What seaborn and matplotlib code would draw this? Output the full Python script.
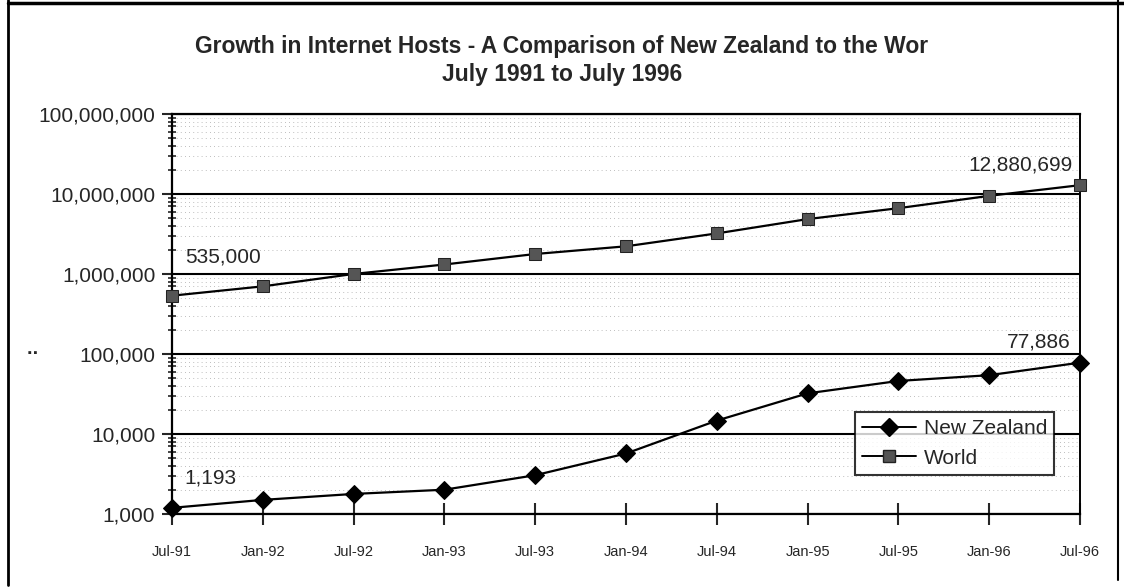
import matplotlib
matplotlib.use("Agg")
import matplotlib.pyplot as plt
import matplotlib.ticker as mticker
from matplotlib.lines import Line2D
import numpy as np
import pandas as pd
import seaborn as sns

# data
months = ["Jul-91", "Jan-92", "Jul-92", "Jan-93", "Jul-93", "Jan-94",
          "Jul-94", "Jan-95", "Jul-95", "Jan-96", "Jul-96"]
new_zealand = [1193, 1500, 1780, 2010, 3050, 5700, 14700, 32200, 46000, 54300, 77886]
world = [535000, 700000, 1000000, 1313000, 1776000, 2217000, 3212000,
         4852000, 6642000, 9472000, 12880699]
title_lines = ["Growth in Internet Hosts - A Comparison of New Zealand to the Wor",
               "July 1991 to July 1996"]

df = pd.DataFrame({"pos": np.arange(len(months)), "month": months,
                   "New Zealand": new_zealand, "World": world})

sns.set_style("white")
plt.rcParams["font.family"] = ["Liberation Sans", "DejaVu Sans"]

fig = plt.figure(figsize=(11.24, 5.88), dpi=100)
ax = fig.add_axes([0.1530, 0.1259, 0.8079, 0.6803])

sns.lineplot(data=df, x="pos", y="New Zealand", ax=ax, color="black", lw=1.6,
             marker="D", markersize=9, markerfacecolor="black",
             markeredgecolor="black", clip_on=False, zorder=5)
sns.lineplot(data=df, x="pos", y="World", ax=ax, color="black", lw=1.6,
             marker="s", markersize=9, markerfacecolor="#555555",
             markeredgecolor="#222222", clip_on=False, zorder=5)

ax.set_yscale("log")
ax.set_ylim(1e3, 1e8)
ax.set_xlim(0, len(months) - 1)
ax.set_xticks(df["pos"])
ax.set_xticklabels(months, fontsize=10.5)
ax.yaxis.set_major_locator(mticker.LogLocator(base=10, numticks=10))
ax.yaxis.set_minor_locator(mticker.LogLocator(base=10, subs=np.arange(2, 10), numticks=20))
ax.yaxis.set_major_formatter(mticker.FuncFormatter(lambda v, p: f"{v:,.0f}"))
ax.yaxis.set_minor_formatter(mticker.NullFormatter())
ax.tick_params(axis="y", which="major", labelsize=15, length=7, width=1.5,
               direction="out", left=True, pad=5)
ax.tick_params(axis="y", which="minor", length=6, width=1.2, direction="inout", left=True)
ax.tick_params(axis="x", which="major", length=16, width=1.5, direction="inout",
               bottom=True, pad=14)
ax.set_xlabel("")
ax.set_ylabel("")

ax.grid(axis="y", which="major", color="black", lw=1.5)
ax.grid(axis="y", which="minor", color="#a8a8a8", lw=0.6, linestyle=(0, (1, 4)))
ax.grid(axis="x", visible=False)

for side in ["left", "bottom", "top"]:
    ax.spines[side].set_color("black")
    ax.spines[side].set_linewidth(1.6)
ax.spines["right"].set_color("black")
ax.spines["right"].set_linewidth(1.4)
ax.spines["right"].set_linestyle((0, (2, 1)))

# data labels at the ends of the series
ax.annotate(f"{new_zealand[0]:,}", (0, new_zealand[0]), xytext=(12, 30),
            textcoords="offset pixels", ha="left", va="center", fontsize=15)
ax.annotate(f"{world[0]:,}", (0, world[0]), xytext=(13, 39),
            textcoords="offset pixels", ha="left", va="center", fontsize=15)
ax.annotate(f"{new_zealand[-1]:,}", (10, new_zealand[-1]), xytext=(-9, 21),
            textcoords="offset pixels", ha="right", va="center", fontsize=15)
ax.annotate(f"{world[-1]:,}", (10, world[-1]), xytext=(-7, 20),
            textcoords="offset pixels", ha="right", va="center", fontsize=15)

handles = [Line2D([], [], color="black", lw=1.4, marker="D", markersize=9,
                  markerfacecolor="black"),
           Line2D([], [], color="black", lw=1.4, marker="s", markersize=9,
                  markerfacecolor="#555555", markeredgecolor="#222222")]
leg = ax.legend(handles, ["New Zealand", "World"], loc="upper left",
                bbox_to_anchor=(0.752, 0.255), borderaxespad=0, fontsize=15,
                frameon=True, fancybox=False, handlelength=2.6, handletextpad=0.35,
                borderpad=0.35, labelspacing=0.5)
leg.get_frame().set_edgecolor("black")
leg.get_frame().set_linewidth(1.5)
leg.set_zorder(10)

fig.text(0.5, 1 - 46 / 588, title_lines[0], ha="center", va="center",
         fontsize=16.5, fontweight="bold")
fig.text(0.5, 1 - 75 / 588, title_lines[1], ha="center", va="center",
         fontsize=16.5, fontweight="bold")
fig.text(0.030, 1 - 354 / 588, "··", ha="center", va="center", fontsize=14,
         fontweight="bold")

# outer frame of the scanned page
fig.add_artist(Line2D([8 / 1124, 8 / 1124], [1 - 585 / 588, 1.0], color="black", lw=2,
                      transform=fig.transFigure))
fig.add_artist(Line2D([8 / 1124, 1.0], [1 - 3 / 588, 1 - 3 / 588], color="black", lw=2.5,
                      transform=fig.transFigure))
fig.add_artist(Line2D([1118 / 1124, 1118 / 1124], [1 - 580 / 588, 1.0], color="black",
                      lw=1.5, transform=fig.transFigure))

fig.savefig("out.png", dpi=100, facecolor="white")
